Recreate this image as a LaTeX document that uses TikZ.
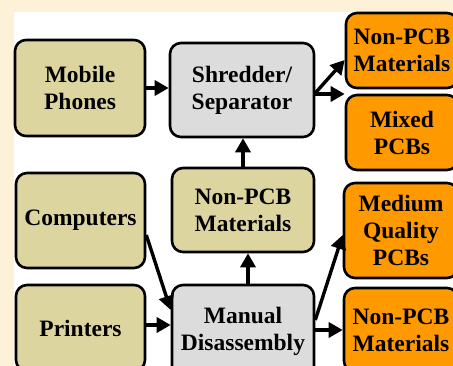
\documentclass[tikz,border=0pt]{standalone}
\usepackage{fontspec}
\setmainfont{Liberation Serif}
\usetikzlibrary{arrows.meta}
\definecolor{bgbeige}{RGB}{253,242,215}
\definecolor{tanfill}{RGB}{221,213,160}
\definecolor{grayfill}{RGB}{220,220,220}
\definecolor{orangefill}{RGB}{255,153,0}
\begin{document}
\begin{tikzpicture}[x=1pt,y=-1pt,
  box/.style={draw=black,line width=2.6pt,rounded corners=11pt,inner sep=0pt,
    align=center,font=\bfseries\fontsize{23.5}{27}\selectfont},
  tanbox/.style={box,fill=tanfill},
  graybox/.style={box,fill=grayfill},
  orangebox/.style={box,fill=orangefill},
  arr/.style={line width=3.4pt,-{Triangle[length=14pt,width=15pt]}}]
\useasboundingbox (0,0) rectangle (453,366);
\clip (0,0) rectangle (453,366);
\fill[bgbeige] (0,0) rectangle (453,366);
\fill[white] (14,12) rectangle (470,380);
% left column
\node[tanbox,minimum width=130pt,minimum height=96pt] (mobile) at (80,88) {Mobile\\Phones};
\node[tanbox,minimum width=129pt,minimum height=95pt] (comp) at (80.5,220.5) {Computers};
\node[tanbox,minimum width=129pt,minimum height=86pt] (print) at (80.5,328) {Printers};
% middle column
\node[graybox,minimum width=144pt,minimum height=94pt] (shred) at (242,90) {Shredder/\\Separator};
\node[tanbox,minimum width=142pt,minimum height=84pt] (npcbmid) at (243,210) {Non-PCB\\Materials};
\node[graybox,minimum width=142pt,minimum height=92pt] (manual) at (243,331) {Manual\\Disassembly};
% right column
\node[orangebox,minimum width=112pt,minimum height=75pt] (npcbtop) at (402,50.5) {Non-PCB\\Materials};
\node[orangebox,minimum width=112pt,minimum height=75pt] (mixed) at (402,132.5) {Mixed\\PCBs};
\node[orangebox,minimum width=114pt,minimum height=95pt] (medium) at (401,230.5) {Medium\\Quality\\PCBs};
\node[orangebox,minimum width=114pt,minimum height=84pt] (npcbbot) at (401,330) {Non-PCB\\Materials};
% connectors
\draw[arr] (mobile.east) -- (mobile.east -| shred.west);
\draw[arr] ([yshift=-3pt]shred.east) -- ([yshift=-9.5pt]npcbtop.west);
\draw[arr] ([yshift=-4pt]shred.east) -- ([yshift=-4pt]shred.east -| mixed.west);
\draw[arr] (npcbmid.north) -- (npcbmid.north |- shred.south);
\draw[arr] ([xshift=5pt]manual.north) -- ([xshift=5pt]npcbmid.south);
\draw[arr] ([yshift=-14.5pt]comp.east) -- ([yshift=21pt]manual.west);
\draw[arr] ([yshift=3pt]print.east) -- ([yshift=3pt]print.east -| manual.west);
\draw[arr] ([yshift=11pt]manual.east) -- ([yshift=-4.5pt]medium.west);
\draw[arr] ([yshift=1pt]manual.east) -- ([yshift=1pt]manual.east -| npcbbot.west);
\end{tikzpicture}
\end{document}
